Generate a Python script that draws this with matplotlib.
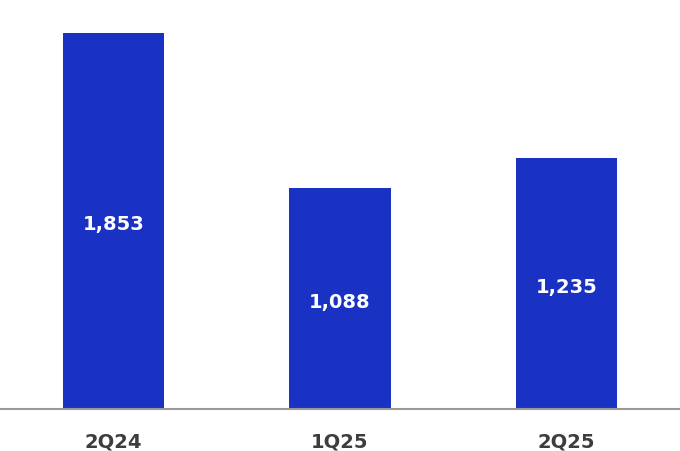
import matplotlib
matplotlib.use("Agg")
import matplotlib.pyplot as plt

# quarterly values
quarters = ["2Q24", "1Q25", "2Q25"]
values = [1853, 1088, 1235]

BAR_COLOR = "#1932c4"
TEXT_COLOR = "#3d3d3d"

plt.rcParams['font.family'] = ['DejaVu Sans']

fig = plt.figure(figsize=(6.8, 4.52), dpi=100)
ax = fig.add_axes([0, 42 / 452, 1, 410 / 452])

pos = range(len(quarters))
bars = ax.bar(pos, values, width=0.446, color=BAR_COLOR, zorder=2)

# value labels, caps centred a little below the bar middle
for b, v in zip(bars, values):
    ax.annotate("{:,}".format(v), (b.get_x() + b.get_width() / 2, v / 2),
                xytext=(0, -6), textcoords="offset points",
                ha="center", va="baseline", color="white",
                fontsize=14, fontweight="bold")

ax.set_xlim(-0.5, 2.5)
ax.set_ylim(0, 2021)
ax.set_xticks(list(pos))
ax.set_xticklabels(quarters, fontsize=14, fontweight="bold", color=TEXT_COLOR,
                   va="baseline")
ax.tick_params(axis="x", length=0, pad=27)
ax.set_yticks([])

for s in ["top", "right", "left"]:
    ax.spines[s].set_visible(False)
ax.spines["bottom"].set_color("#999999")
ax.spines["bottom"].set_linewidth(1.5)

fig.savefig("out.png", dpi=100)
